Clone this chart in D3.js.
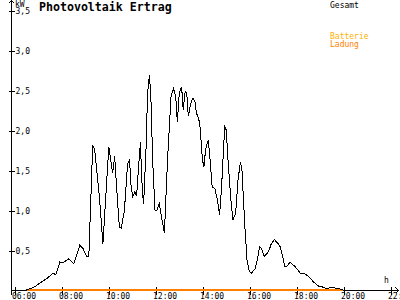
<!DOCTYPE html>
<html>
<head>
<meta charset="utf-8">
<script src="https://cdn.jsdelivr.net/npm/d3@7"></script>
<style>
  body { margin: 0; background: #fff; }
  text { font-family: "DejaVu Sans Mono", monospace; }
</style>
</head>
<body>
<div id="chart"></div>
<script>
// readings (time of day, kW)
var times = ["06:32","06:53","07:10","07:23","07:40","07:47","07:57","08:05","08:20","08:33",
  "08:48","08:56","09:05","09:11","09:21","09:26","09:38","09:47","10:02","10:12",
  "10:17","10:23","10:29","10:34","10:42","10:50","10:55","10:59","11:03","11:09",
  "11:13","11:18","11:23","11:24","11:28","11:31","11:37","11:41","11:46","11:50",
  "11:54","12:00","12:05","12:11","12:15","12:24","12:32","12:41","12:47","12:53",
  "12:57","13:02","13:08","13:12","13:17","13:21","13:25","13:31","13:37","13:42",
  "13:46","13:52","13:55","14:01","14:05","14:09","14:16","14:20","14:26","14:33",
  "14:39","14:45","14:50","14:58","15:02","15:07","15:13","15:19","15:26","15:32",
  "15:38","15:42","15:49","15:55","16:01","16:06","16:16","16:23","16:27","16:32",
  "16:39","16:50","16:57","17:05","17:14","17:20","17:26","17:31","17:37","17:45",
  "17:58","18:11","18:23","18:32","18:45","18:57","19:06","19:18","19:31","19:48","20:01"];
var gesamt = [0.00,0.04,0.10,0.14,0.21,0.19,0.35,0.34,0.39,0.33,
  0.56,0.52,0.42,0.42,1.81,1.75,1.17,0.58,1.79,1.46,
  1.67,1.21,0.79,0.77,1.00,1.58,1.63,1.29,1.17,1.23,
  1.17,1.54,1.85,1.67,1.21,1.08,1.75,2.46,2.69,2.33,
  1.63,1.00,1.00,1.08,0.96,0.71,1.63,2.42,2.52,2.42,
  2.10,2.46,2.54,2.25,2.48,2.46,2.17,2.33,2.40,2.35,
  2.21,2.13,2.04,1.63,1.54,1.75,1.88,1.67,1.29,1.27,
  1.13,0.94,1.29,2.04,2.00,1.58,1.17,0.875,0.96,1.375,
  1.60,1.50,0.83,0.375,0.23,0.21,0.27,0.42,0.54,0.52,
  0.42,0.48,0.58,0.63,0.58,0.54,0.42,0.29,0.30,0.35,
  0.29,0.21,0.20,0.17,0.10,0.05,0.04,0.02,0.03,0.02,0.00];
var batterie = [0, 0]; // Ladung, flat at zero from first to last reading
var yTicks = [0.5, 1.0, 1.5, 2.0, 2.5, 3.0, 3.5];
var xTicks = [6, 8, 10, 12, 14, 16, 18, 20, 22];

var svgWidth = 400;
var svgHeight = 300;

function toHours(s) {
  var p = s.split(":");
  return +p[0] + (+p[1]) / 60;
}

var svg = d3.select("#chart")
  .append("svg")
  .attr("width", svgWidth)
  .attr("height", svgHeight)
  .attr("shape-rendering", "crispEdges");

var x = d3.scaleLinear().domain([6, 22]).range([14, 390]);
var y = d3.scaleLinear().domain([0, 3.5]).range([290, 10]);

// y axis ticks + labels
var leftAxis = d3.axisLeft(y)
  .tickValues(yTicks)
  .tickSize(6)
  .tickFormat(d => d3.format(".1f")(d).replace(".", ","));

var yAxis = svg.append("g")
  .attr("transform", "translate(14.5,0.5)")
  .call(leftAxis);
yAxis.select(".domain").remove();
yAxis.selectAll("line").attr("stroke", "#000");
yAxis.selectAll("text")
  .attr("x", 1)
  .attr("dy", "0.32em")
  .attr("text-anchor", "start")
  .attr("font-size", 8)
  .attr("font-family", "DejaVu Sans Mono")
  .attr("fill", "#000");

// x axis ticks + labels
var bottomAxis = d3.axisBottom(x)
  .tickValues(xTicks)
  .tickSize(8)
  .tickFormat(d => d3.format("02d")(d) + ":00");

var xAxis = svg.append("g")
  .attr("transform", "translate(0.5,286.5)")
  .call(bottomAxis);
xAxis.select(".domain").remove();
xAxis.selectAll("line").attr("stroke", "#000");
xAxis.selectAll("text")
  .attr("x", -3)
  .attr("y", 12.5)
  .attr("dy", 0)
  .attr("text-anchor", "start")
  .attr("font-size", 8)
  .attr("font-family", "DejaVu Sans Mono")
  .attr("fill", "#000");

// axis lines with arrows
svg.append("path")
  .attr("d", "M11.5,295V0.5M8.5,3.5L11.5,0.5L14.5,3.5")
  .attr("fill", "none")
  .attr("stroke", "#000");
svg.append("path")
  .attr("d", "M11,290.5H398.5M395.5,287.5L398.5,290.5L395.5,293.5")
  .attr("fill", "none")
  .attr("stroke", "#000");

svg.append("text").attr("x", 15).attr("y", 7)
  .attr("font-size", 8).text("kW");
svg.append("text").attr("x", 384).attr("y", 283)
  .attr("font-size", 8).text("h");

// Batterie Ladung line
svg.append("path")
  .datum([toHours(times[0]), toHours(times[times.length - 1])])
  .attr("d", d => d3.line()(d.map((t, i) => [x(t), y(batterie[i]) - 0.5])))
  .attr("fill", "none")
  .attr("stroke", "#ff8000")
  .attr("stroke-width", 2);

// Gesamt line
var line = d3.line()
  .x((d, i) => x(toHours(times[i])))
  .y(d => y(d));

svg.append("path")
  .datum(gesamt)
  .attr("d", line)
  .attr("fill", "none")
  .attr("stroke", "#000")
  .attr("stroke-width", 1);

// title
svg.append("text")
  .attr("x", 39).attr("y", 10.5)
  .attr("font-size", 11.6)
  .attr("font-weight", "bold")
  .text("Photovoltaik Ertrag");

// legend
svg.append("text").attr("x", 330).attr("y", 7.5)
  .attr("font-size", 8).attr("fill", "#000").text("Gesamt");
svg.append("text").attr("x", 330).attr("y", 39)
  .attr("font-size", 8).attr("fill", "#ffb000").text("Batterie");
svg.append("text").attr("x", 330).attr("y", 47)
  .attr("font-size", 8).attr("fill", "#ff8000").text("Ladung");
</script>
</body>
</html>
